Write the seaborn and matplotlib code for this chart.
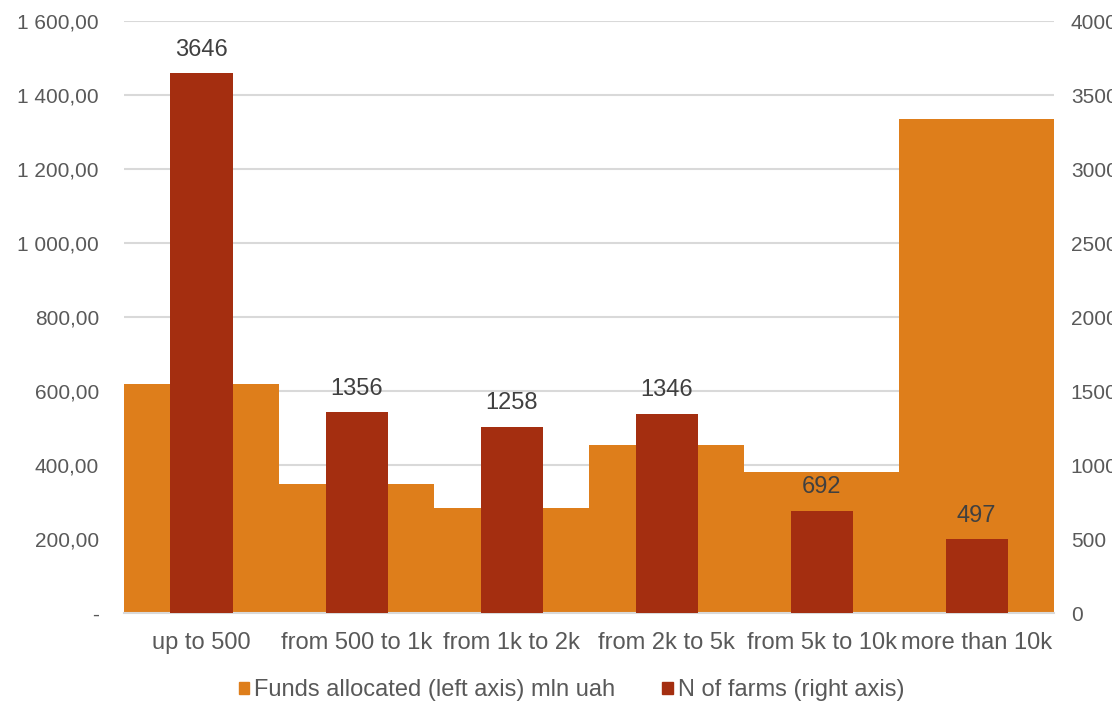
import matplotlib
matplotlib.use("Agg")
import matplotlib.pyplot as plt
import matplotlib.ticker as mticker
from matplotlib.patches import Patch
import numpy as np
import pandas as pd
import seaborn as sns

categories = ["up to 500", "from 500 to 1k", "from 1k to 2k", "from 2k to 5k",
              "from 5k to 10k", "more than 10k"]
funds_mln_uah = [620.0, 350.0, 285.0, 455.0, 382.0, 1335.0]
n_farms = [3646, 1356, 1258, 1346, 692, 497]

left_ticks = [0, 200, 400, 600, 800, 1000, 1200, 1400, 1600]
right_ticks = [0, 500, 1000, 1500, 2000, 2500, 3000, 3500, 4000]

ORANGE = "#DE7E1B"
RED = "#A42E10"
GRID = "#D9D9D9"
TEXT = "#595959"

df = pd.DataFrame({"category": categories, "funds": funds_mln_uah, "farms": n_farms})

sns.set_theme(style="white")
plt.rcParams["font.family"] = ["Liberation Sans", "DejaVu Sans"]
FS_TICK = 15
FS = 17

fig = plt.figure(figsize=(11.12, 7.03), dpi=100)
ax = fig.add_axes([0.1115, 0.128, 0.8365, 0.842])

sns.barplot(data=df, x="category", y="funds", color=ORANGE, width=1.0,
            saturation=1, ax=ax, linewidth=0, zorder=2)
ax.set_ylim(0, 1600)
ax.set_xlim(-0.5, len(categories) - 0.5)
ax.set_yticks(left_ticks)
ax.yaxis.set_major_formatter(mticker.FuncFormatter(
    lambda v, p: "-" if v == 0 else f"{v:,.2f}".replace(",", " ").replace(".", ",")))
ax.grid(axis="y", color=GRID, linewidth=1.5)
ax.grid(axis="x", visible=False)
ax.set_axisbelow(True)
ax.set_xlabel("")
ax.set_ylabel("")
for s in ["top", "left", "right"]:
    ax.spines[s].set_visible(False)
ax.spines["bottom"].set_color(GRID)
ax.spines["bottom"].set_linewidth(1.5)
ax.tick_params(axis="y", length=0, pad=18, labelsize=FS_TICK, labelcolor=TEXT)
ax.tick_params(axis="x", which="major", length=0, pad=14, labelsize=FS, labelcolor=TEXT)
ax.set_xticks(np.arange(-0.5, len(categories)), minor=True)
ax.tick_params(axis="x", which="minor", length=7, width=1.5, color=GRID, direction="out")

ax2 = ax.twinx()
sns.barplot(data=df, x="category", y="farms", color=RED, width=0.4,
            saturation=1, ax=ax2, linewidth=0, zorder=3)
ax2.set_ylim(0, 4000)
ax2.set_yticks(right_ticks)
ax2.set_ylabel("")
for s in ax2.spines.values():
    s.set_visible(False)
ax2.tick_params(axis="y", length=0, pad=12, labelsize=FS_TICK, labelcolor=TEXT)
ax2.grid(False)

for i, v in enumerate(n_farms):
    ax2.annotate(f"{v}", xy=(i, v), xytext=(0, 9), textcoords="offset points",
                 ha="center", va="bottom", fontsize=FS, color="#404040")

handles = [Patch(color=ORANGE, label="Funds allocated (left axis) mln uah"),
           Patch(color=RED, label="N of farms (right axis)")]
fig.legend(handles=handles, loc="center", bbox_to_anchor=(0.514, 0.018), ncol=2,
           frameon=False, fontsize=FS, handlelength=0.45, handleheight=0.45,
           handletextpad=0.2, columnspacing=2.0, labelcolor=TEXT)

fig.savefig("out.png", dpi=100)
